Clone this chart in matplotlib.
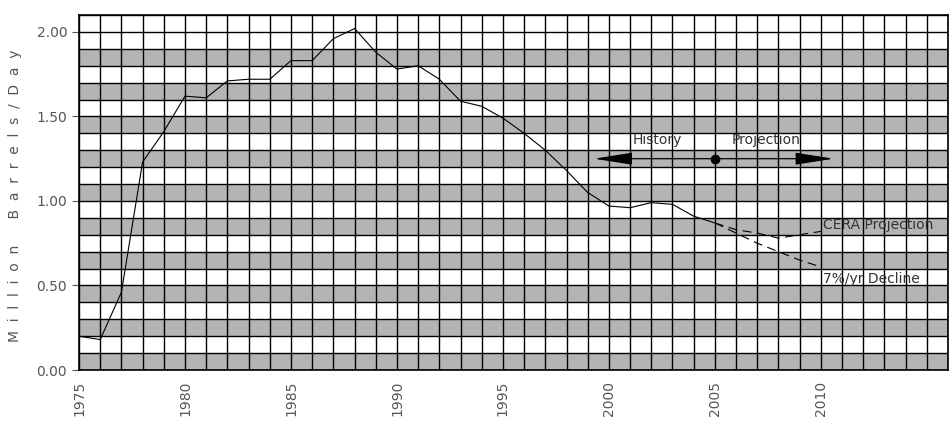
import numpy as np
import matplotlib.pyplot as plt

# History (million barrels / day)
hist_years = np.arange(1975, 2006)
hist_vals = [0.20, 0.18, 0.46, 1.23, 1.41, 1.62, 1.61, 1.71, 1.72, 1.72,
             1.83, 1.83, 1.96, 2.02, 1.88, 1.78, 1.80, 1.72, 1.59, 1.56,
             1.49, 1.40, 1.30, 1.18, 1.05, 0.97, 0.96, 0.99, 0.98, 0.91,
             0.87]

# Projections
proj_years = np.arange(2005, 2011)
cera_vals = [0.87, 0.83, 0.81, 0.78, 0.80, 0.82]
decline_vals = [0.87, 0.81, 0.75, 0.70, 0.65, 0.61]

xtick_years = [1975, 1980, 1985, 1990, 1995, 2000, 2005, 2010]
ytick_vals = [0.0, 0.5, 1.0, 1.5, 2.0]

fig = plt.figure(figsize=(9.53, 4.25), dpi=100)
ax = fig.add_axes([0.0829, 0.1294, 0.9119, 0.8353])

x0, x1 = 1975, 2016
y0, y1 = 0.0, 2.1

# gray bands
for k in range(0, 20, 2):
    ax.axhspan(k * 0.1, (k + 1) * 0.1, color='#b4b4b4', lw=0, zorder=0)

# grid
for yr in range(x0, x1 + 1):
    ax.axvline(yr, color='black', lw=1.0, zorder=1)
for k in range(0, 22):
    ax.axhline(k * 0.1, color='black', lw=1.0, zorder=1)

# data lines
ax.plot(hist_years, hist_vals, color='black', lw=0.8, zorder=3)
ax.plot(proj_years, cera_vals, color='black', lw=0.8, ls=(0, (8, 5)), zorder=3)
ax.plot(proj_years, decline_vals, color='black', lw=0.8, ls=(0, (8, 5)), zorder=3)

txt_color = '#333333'
ax.text(2010.1, 0.86, 'CERA Projection', fontsize=10, color=txt_color,
        va='center', ha='left', zorder=4)
ax.text(2010.1, 0.54, '7%/yr Decline', fontsize=10, color=txt_color,
        va='center', ha='left', zorder=4)

# history / projection arrow
arr_y = 1.25
head = '-|>,head_length=2.4,head_width=0.38'
ax.annotate('', xy=(1999.3, arr_y), xytext=(2005, arr_y),
            arrowprops=dict(arrowstyle=head, mutation_scale=10, color='black',
                            lw=0.9, shrinkA=0, shrinkB=0), zorder=4)
ax.annotate('', xy=(2010.6, arr_y), xytext=(2005, arr_y),
            arrowprops=dict(arrowstyle=head, mutation_scale=10, color='black',
                            lw=0.9, shrinkA=0, shrinkB=0), zorder=4)
ax.plot([2005], [arr_y], 'o', color='black', ms=6, zorder=5)
ax.text(2002.3, 1.36, 'History', fontsize=10, color=txt_color,
        ha='center', va='center', zorder=4)
ax.text(2007.4, 1.36, 'Projection', fontsize=10, color=txt_color,
        ha='center', va='center', zorder=4)

ax.set_xlim(x0, x1)
ax.set_ylim(y0, y1)
ax.set_xticks(xtick_years)
ax.set_xticklabels([str(y) for y in xtick_years], rotation=90,
                   fontsize=10, color='#555555')
ax.set_yticks(ytick_vals)
ax.set_yticklabels(['%.2f' % v for v in ytick_vals], fontsize=10,
                   color='#555555')
ax.tick_params(axis='x', length=0, pad=8)
ax.tick_params(axis='y', length=5, width=0.8, color='#555555')
for s in ax.spines.values():
    s.set_linewidth(1.2)
    s.set_zorder(6)

fig.text(0.016, 0.54,
         'M  i  l  l  i  o  n      B  a  r  r  e  l  s  /  D  a  y',
         rotation=90, fontsize=10, color='#555555', ha='center', va='center')

fig.savefig('out.png', dpi=100)
